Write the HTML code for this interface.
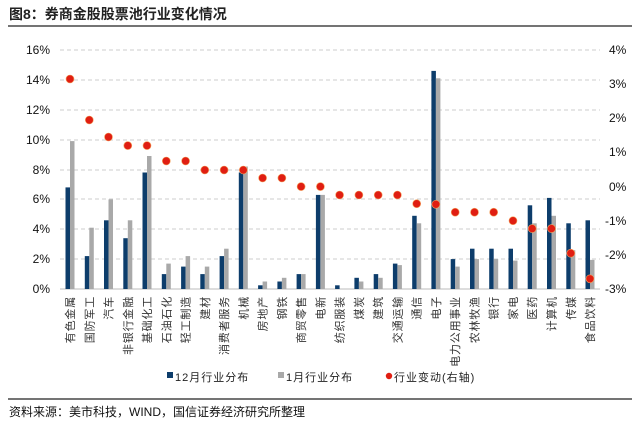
<!DOCTYPE html>
<html><head><meta charset="utf-8"><style>
body{margin:0;background:#fff;}
svg{display:block;font-family:"Liberation Sans","Noto Sans CJK SC",sans-serif;}
</style></head><body>
<svg width="640" height="422" viewBox="0 0 640 422" xmlns="http://www.w3.org/2000/svg">
<text x="9" y="19" font-size="14" font-weight="bold" fill="#222">图8：券商金股股票池行业变化情况</text>
<line x1="8" y1="26" x2="632" y2="26" stroke="#222" stroke-width="1.2"/>
<g stroke="#ccc" stroke-dasharray="4,3" stroke-width="1">
<line x1="60" y1="50" x2="600" y2="50"/><line x1="60" y1="80" x2="600" y2="80"/>
<line x1="60" y1="110" x2="600" y2="110"/><line x1="60" y1="140" x2="600" y2="140"/>
<line x1="60" y1="170" x2="600" y2="170"/><line x1="60" y1="199" x2="600" y2="199"/>
<line x1="60" y1="229" x2="600" y2="229"/><line x1="60" y1="259" x2="600" y2="259"/>
</g>
<line x1="60" y1="289" x2="600" y2="289" stroke="#bbb"/>
<g font-size="12" fill="#111" text-anchor="end">
<text x="50" y="54">16%</text><text x="50" y="84">14%</text><text x="50" y="114">12%</text>
<text x="50" y="144">10%</text><text x="50" y="174">8%</text><text x="50" y="203">6%</text>
<text x="50" y="233">4%</text><text x="50" y="263">2%</text><text x="50" y="293">0%</text>
</g>
<g font-size="12" fill="#111">
<text x="609" y="54">4%</text><text x="609" y="88">3%</text><text x="609" y="122">2%</text>
<text x="609" y="156">1%</text><text x="609" y="191">0%</text><text x="605" y="225">-1%</text>
<text x="605" y="259">-2%</text><text x="605" y="293">-3%</text>
</g>
<g fill="#0d3d6b">
<rect x="65.5" y="187.4" width="4.5" height="101.6"/>
<rect x="84.8" y="256.1" width="4.5" height="32.9"/>
<rect x="104" y="220.3" width="4.5" height="68.7"/>
<rect x="123.3" y="238.2" width="4.5" height="50.8"/>
<rect x="142.5" y="172.5" width="4.5" height="116.5"/>
<rect x="161.8" y="274.1" width="4.5" height="14.9"/>
<rect x="181.1" y="266.6" width="4.5" height="22.4"/>
<rect x="200.3" y="274.1" width="4.5" height="14.9"/>
<rect x="219.6" y="256.1" width="4.5" height="32.9"/>
<rect x="238.8" y="172.5" width="4.5" height="116.5"/>
<rect x="258.1" y="285.3" width="4.5" height="3.7"/>
<rect x="277.4" y="281.5" width="4.5" height="7.5"/>
<rect x="296.6" y="274.1" width="4.5" height="14.9"/>
<rect x="315.9" y="194.9" width="4.5" height="94.1"/>
<rect x="335.1" y="285.3" width="4.5" height="3.7"/>
<rect x="354.4" y="277.8" width="4.5" height="11.2"/>
<rect x="373.7" y="274.1" width="4.5" height="14.9"/>
<rect x="392.9" y="263.6" width="4.5" height="25.4"/>
<rect x="412.2" y="215.8" width="4.5" height="73.2"/>
<rect x="431.4" y="70.9" width="4.5" height="218.1"/>
<rect x="450.7" y="259.1" width="4.5" height="29.9"/>
<rect x="470" y="248.7" width="4.5" height="40.3"/>
<rect x="489.2" y="248.7" width="4.5" height="40.3"/>
<rect x="508.5" y="248.7" width="4.5" height="40.3"/>
<rect x="527.7" y="205.3" width="4.5" height="83.7"/>
<rect x="547" y="197.9" width="4.5" height="91.1"/>
<rect x="566.3" y="223.3" width="4.5" height="65.7"/>
<rect x="585.5" y="220.3" width="4.5" height="68.7"/>
</g>
<g fill="#a9a9a9">
<rect x="70" y="141.1" width="4.5" height="147.9"/>
<rect x="89.3" y="227.7" width="4.5" height="61.3"/>
<rect x="108.5" y="199.4" width="4.5" height="89.6"/>
<rect x="127.8" y="220.3" width="4.5" height="68.7"/>
<rect x="147" y="156" width="4.5" height="133"/>
<rect x="166.3" y="263.6" width="4.5" height="25.4"/>
<rect x="185.6" y="256.1" width="4.5" height="32.9"/>
<rect x="204.8" y="266.6" width="4.5" height="22.4"/>
<rect x="224.1" y="248.7" width="4.5" height="40.3"/>
<rect x="243.3" y="166.5" width="4.5" height="122.5"/>
<rect x="262.6" y="281.5" width="4.5" height="7.5"/>
<rect x="281.9" y="277.8" width="4.5" height="11.2"/>
<rect x="301.1" y="274.1" width="4.5" height="14.9"/>
<rect x="320.4" y="194.9" width="4.5" height="94.1"/>
<rect x="358.9" y="281.5" width="4.5" height="7.5"/>
<rect x="378.2" y="277.8" width="4.5" height="11.2"/>
<rect x="397.4" y="265.1" width="4.5" height="23.9"/>
<rect x="416.7" y="223.3" width="4.5" height="65.7"/>
<rect x="435.9" y="78.3" width="4.5" height="210.7"/>
<rect x="455.2" y="266.6" width="4.5" height="22.4"/>
<rect x="474.5" y="259.1" width="4.5" height="29.9"/>
<rect x="493.7" y="259.1" width="4.5" height="29.9"/>
<rect x="513" y="260.6" width="4.5" height="28.4"/>
<rect x="532.2" y="223.3" width="4.5" height="65.7"/>
<rect x="551.5" y="215.8" width="4.5" height="73.2"/>
<rect x="570.8" y="250.2" width="4.5" height="38.8"/>
<rect x="590" y="259.9" width="4.5" height="29.1"/>
</g>
<g fill="#e01e12" stroke="#f4a460" stroke-width="0.6">
<circle cx="70" cy="79" r="4"/><circle cx="89.3" cy="120" r="4"/><circle cx="108.5" cy="137" r="4"/>
<circle cx="127.8" cy="145.6" r="4"/><circle cx="147" cy="145.6" r="4"/><circle cx="166.3" cy="161" r="4"/>
<circle cx="185.6" cy="161" r="4"/><circle cx="204.8" cy="170" r="4"/><circle cx="224.1" cy="170" r="4"/>
<circle cx="243.3" cy="170" r="4"/><circle cx="262.6" cy="178" r="4"/><circle cx="281.9" cy="178" r="4"/>
<circle cx="301.1" cy="186.6" r="4"/><circle cx="320.4" cy="186.6" r="4"/><circle cx="339.6" cy="195" r="4"/>
<circle cx="358.9" cy="195" r="4"/><circle cx="378.2" cy="195" r="4"/><circle cx="397.4" cy="195" r="4"/>
<circle cx="416.7" cy="203.7" r="4"/><circle cx="435.9" cy="204.3" r="4"/><circle cx="455.2" cy="212.2" r="4"/>
<circle cx="474.5" cy="212.2" r="4"/><circle cx="493.7" cy="212.2" r="4"/><circle cx="513" cy="220.7" r="4"/>
<circle cx="532.2" cy="228.6" r="4"/><circle cx="551.5" cy="228.6" r="4"/><circle cx="570.8" cy="253.2" r="4"/>
<circle cx="590" cy="278.8" r="4"/>
</g>
<g font-size="11" fill="#333" text-anchor="end" letter-spacing="0.8">
<text transform="translate(74,296) rotate(-90)">有色金属</text>
<text transform="translate(93.3,296) rotate(-90)">国防军工</text>
<text transform="translate(112.5,296) rotate(-90)">汽车</text>
<text transform="translate(131.8,296) rotate(-90)">非银行金融</text>
<text transform="translate(151,296) rotate(-90)">基础化工</text>
<text transform="translate(170.3,296) rotate(-90)">石油石化</text>
<text transform="translate(189.6,296) rotate(-90)">轻工制造</text>
<text transform="translate(208.8,296) rotate(-90)">建材</text>
<text transform="translate(228.1,296) rotate(-90)">消费者服务</text>
<text transform="translate(247.3,296) rotate(-90)">机械</text>
<text transform="translate(266.6,296) rotate(-90)">房地产</text>
<text transform="translate(285.9,296) rotate(-90)">钢铁</text>
<text transform="translate(305.1,296) rotate(-90)">商贸零售</text>
<text transform="translate(324.4,296) rotate(-90)">电新</text>
<text transform="translate(343.6,296) rotate(-90)">纺织服装</text>
<text transform="translate(362.9,296) rotate(-90)">煤炭</text>
<text transform="translate(382.2,296) rotate(-90)">建筑</text>
<text transform="translate(401.4,296) rotate(-90)">交通运输</text>
<text transform="translate(420.7,296) rotate(-90)">通信</text>
<text transform="translate(439.9,296) rotate(-90)">电子</text>
<text transform="translate(459.2,296) rotate(-90)">电力公用事业</text>
<text transform="translate(478.5,296) rotate(-90)">农林牧渔</text>
<text transform="translate(497.7,296) rotate(-90)">银行</text>
<text transform="translate(517,296) rotate(-90)">家电</text>
<text transform="translate(536.2,296) rotate(-90)">医药</text>
<text transform="translate(555.5,296) rotate(-90)">计算机</text>
<text transform="translate(574.8,296) rotate(-90)">传媒</text>
<text transform="translate(594,296) rotate(-90)">食品饮料</text>
</g>
<g font-size="11" fill="#222" letter-spacing="1">
<rect x="167" y="372" width="6" height="6" fill="#0d3d6b"/><text x="175" y="381">12月行业分布</text>
<rect x="278" y="372" width="6" height="6" fill="#a9a9a9"/><text x="286" y="381">1月行业分布</text>
<circle cx="389" cy="376" r="3.2" fill="#e01e12"/><text x="394" y="381">行业变动(右轴)</text>
</g>
<line x1="8" y1="399" x2="632" y2="399" stroke="#222" stroke-width="1.2"/>
<text x="9" y="416" font-size="12" fill="#111">资料来源：美市科技，WIND，国信证券经济研究所整理</text>
</svg>
</body></html>
